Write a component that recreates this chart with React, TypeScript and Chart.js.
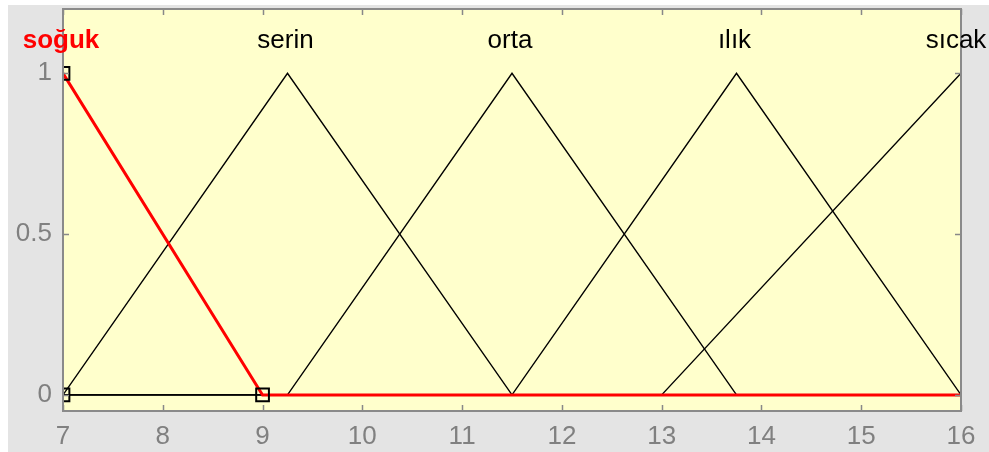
import React, { useEffect, useRef } from "react";
import { Chart, registerables } from "chart.js";

Chart.register(...registerables);

// ---- data ----
const mfNames = ["soğuk", "serin", "orta", "ılık", "sıcak"];
const labelX = [7, 9.25, 11.5, 13.75, 16];
const labelY = 1.1;

const sogukX = [7, 9, 16];
const sogukY = [1, 0, 0];
const serinX = [7, 9.25, 11.5, 16];
const serinY = [0, 1, 0, 0];
const ortaX = [7, 9.25, 11.5, 13.75, 16];
const ortaY = [0, 0, 1, 0, 0];
const ilikX = [7, 11.5, 13.75, 16];
const ilikY = [0, 0, 1, 0];
const sicakX = [7, 13, 16];
const sicakY = [0, 0, 1];

const markerX = [7, 7, 9];
const markerY = [1, 0, 0];

const xTicks = [7, 8, 9, 10, 11, 12, 13, 14, 15, 16];
const yTicks = [0, 0.5, 1];
const yTickLabels = ["0", "0.5", "1"];
const xMin = 7;
const xMax = 16;
const yMin = -0.05;
const yMax = 1.2;

const FONT = "'Liberation Sans', Arial, sans-serif";
const pts = (xs: number[], ys: number[]) => xs.map((x, i) => ({ x, y: ys[i] }));

const boxPlugin = {
  id: "matlabBox",
  beforeDraw(chart: any) {
    const { ctx, chartArea: a } = chart;
    ctx.save();
    ctx.fillStyle = "#e4e4e4";
    ctx.fillRect(0, 0, chart.width, chart.height);
    ctx.fillStyle = "#ffffcc";
    ctx.fillRect(a.left, a.top, a.right - a.left, a.bottom - a.top);
    ctx.restore();
  },
  afterDraw(chart: any) {
    const { ctx, chartArea: a, scales } = chart;
    const xs = scales.x;
    const ys = scales.y;
    ctx.save();
    // inward ticks
    ctx.strokeStyle = "#888888";
    ctx.lineWidth = 1.5;
    const tl = 6;
    xTicks.forEach((v) => {
      const px = Math.round(xs.getPixelForValue(v)) + 0.5;
      ctx.beginPath();
      ctx.moveTo(px, a.bottom);
      ctx.lineTo(px, a.bottom - tl);
      ctx.moveTo(px, a.top);
      ctx.lineTo(px, a.top + tl);
      ctx.stroke();
    });
    yTicks.forEach((v) => {
      const py = Math.round(ys.getPixelForValue(v)) + 0.5;
      ctx.beginPath();
      ctx.moveTo(a.left, py);
      ctx.lineTo(a.left + tl, py);
      ctx.moveTo(a.right, py);
      ctx.lineTo(a.right - tl, py);
      ctx.stroke();
    });
    // box
    ctx.strokeStyle = "#8a8a8a";
    ctx.lineWidth = 2;
    ctx.strokeRect(a.left, a.top, a.right - a.left, a.bottom - a.top);
    // MF labels
    ctx.textAlign = "center";
    ctx.textBaseline = "middle";
    mfNames.forEach((name, i) => {
      const px = xs.getPixelForValue(labelX[i]);
      const py = ys.getPixelForValue(labelY);
      if (i === 0) {
        ctx.font = `bold 26px ${FONT}`;
        ctx.fillStyle = "#ff0000";
      } else {
        ctx.font = `26px ${FONT}`;
        ctx.fillStyle = "#000000";
      }
      ctx.fillText(name, i === mfNames.length - 1 ? px - 5 : px - 2, py);
    });
    ctx.restore();
  },
};

export default function App() {
  const ref = useRef<HTMLCanvasElement | null>(null);
  useEffect(() => {
    if (!ref.current) return;
    const black = (xs: number[], ys: number[]) => ({
      type: "line" as const,
      data: pts(xs, ys),
      borderColor: "#000000",
      borderWidth: 1.4,
      pointRadius: 0,
      tension: 0,
      order: 2,
    });
    const chart = new Chart(ref.current, {
      type: "line",
      data: {
        datasets: [
          {
            type: "scatter",
            data: pts(markerX, markerY),
            pointStyle: "rect",
            pointRadius: 9,
            pointBorderWidth: 2,
            pointBorderColor: "#000000",
            pointBackgroundColor: "rgba(0,0,0,0)",
            showLine: false,
            clip: 0,
            order: 0,
          } as any,
          {
            type: "line",
            data: pts(sogukX, sogukY),
            borderColor: "#ff0000",
            borderWidth: 3,
            pointRadius: 0,
            tension: 0,
            order: 1,
          },
          black(serinX, serinY),
          black(ortaX, ortaY),
          black(ilikX, ilikY),
          black(sicakX, sicakY),
        ],
      },
      options: {
        responsive: false,
        animation: false,
        events: [],
        layout: { autoPadding: false, padding: { top: 4, right: 28, left: 0, bottom: 0 } },
        plugins: { legend: { display: false }, tooltip: { enabled: false } },
        scales: {
          x: {
            type: "linear",
            min: xMin,
            max: xMax,
            grid: { display: false, drawTicks: false },
            border: { display: false },
            afterBuildTicks: (s: any) => {
              s.ticks = xTicks.map((v) => ({ value: v }));
            },
            afterFit: (s: any) => {
              s.height = 41;
              s.paddingLeft = 0;
              s.paddingRight = 0;
            },
            ticks: {
              padding: 10,
              color: "#808080",
              font: { family: FONT, size: 26 },
              maxRotation: 0,
              callback: (v: any) => String(v),
            },
          },
          y: {
            type: "linear",
            min: yMin,
            max: yMax,
            grid: { display: false, drawTicks: false },
            border: { display: false },
            afterBuildTicks: (s: any) => {
              s.ticks = yTicks.map((v) => ({ value: v }));
            },
            afterFit: (s: any) => {
              s.width = 55;
              s.paddingTop = 0;
              s.paddingBottom = 0;
            },
            ticks: {
              padding: 11,
              color: "#808080",
              font: { family: FONT, size: 26 },
              callback: (v: any) => {
                const i = yTicks.indexOf(Number(v));
                return i >= 0 ? yTickLabels[i] : "";
              },
            },
          },
        },
      },
      plugins: [boxPlugin],
    });
    return () => chart.destroy();
  }, []);
  return (
    <div
      style={{
        position: "absolute",
        left: 8,
        top: 5,
        width: 981,
        height: 447,
        background: "#e4e4e4",
      }}
    >
      <canvas ref={ref} width={981} height={447} style={{ width: 981, height: 447, display: "block" }} />
    </div>
  );
}
